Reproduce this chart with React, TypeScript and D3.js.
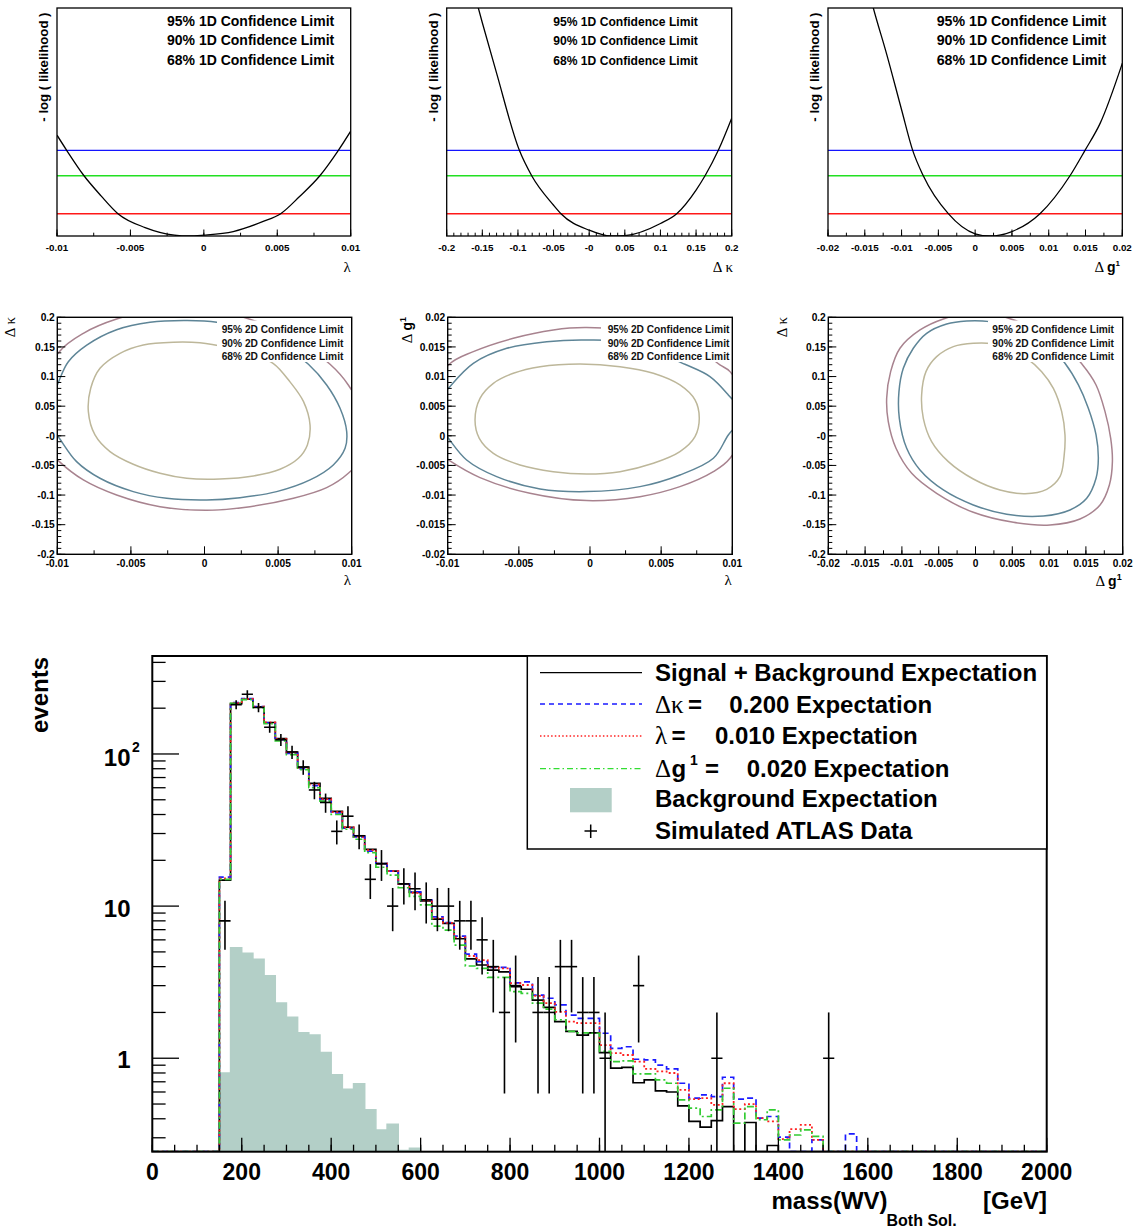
import React from "react";
import * as d3 from "d3";

const SANS = "'Liberation Sans', Arial, Helvetica, sans-serif";
const SERIF = "'Liberation Serif', 'DejaVu Serif', serif";

// ---------------- 1D likelihood scans ----------------
const levels1D = [1.92, 1.35, 0.5];
const levelColors = ["#1414ff", "#22e022", "#ff1818"];
const legend1D = ["95% 1D Confidence Limit", "90% 1D Confidence Limit", "68% 1D Confidence Limit"];
const likeMax = 5.11;

const scanLamX = [-0.01, -0.00934, -0.00816, -0.007, -0.00585, -0.004, -0.002, -0.001, 0, 0.002, 0.004, 0.00523, 0.0065, 0.0079, 0.00916, 0.01];
const scanLamY = [2.26, 1.92, 1.35, 0.9, 0.5, 0.19, 0.02, 0.0, 0.02, 0.1, 0.32, 0.5, 0.88, 1.35, 1.92, 2.35];
const scanKapX = [-0.17, -0.1556, -0.15, -0.13, -0.098, -0.0807, -0.05, -0.0396, 0.0, 0.03, 0.05, 0.1, 0.1228, 0.15, 0.1626, 0.1812, 0.2];
const scanKapY = [6.0, 5.11, 4.78, 3.65, 1.92, 1.35, 0.69, 0.5, 0.13, 0.0, 0.01, 0.28, 0.5, 1.03, 1.35, 1.92, 2.64];
const scanG1X = [-0.0155, -0.01384, -0.012, -0.01, -0.00849, -0.00705, -0.00365, 0.0, 0.002, 0.005, 0.00881, 0.01289, 0.01493, 0.017, 0.02];
const scanG1Y = [6.2, 5.11, 4.06, 2.83, 1.92, 1.35, 0.5, 0.05, 0.0, 0.1, 0.5, 1.35, 1.92, 2.53, 3.87];

// ---------------- tick values ----------------
const lamTicks = [-0.01, -0.005, 0, 0.005, 0.01];
const lamLabels = ["-0.01", "-0.005", "0", "0.005", "0.01"];
const kapTicks = [-0.2, -0.15, -0.1, -0.05, 0, 0.05, 0.1, 0.15, 0.2];
const kapLabels = ["-0.2", "-0.15", "-0.1", "-0.05", "-0", "0.05", "0.1", "0.15", "0.2"];
const g1Ticks = [-0.02, -0.015, -0.01, -0.005, 0, 0.005, 0.01, 0.015, 0.02];
const g1Labels = ["-0.02", "-0.015", "-0.01", "-0.005", "0", "0.005", "0.01", "0.015", "0.02"];

// ---------------- 2D contours ----------------
const legend2D = ["95% 2D Confidence Limit", "90% 2D Confidence Limit", "68% 2D Confidence Limit"];
const contourColors = ["#a8838f", "#5e8597", "#bdb79a"]; // 95, 90, 68

const lamKap95 = [[-0.0114, 0.0], [-0.01163, 0.052], [-0.00986, 0.142], [-0.00823, 0.173], [-0.00597, 0.197], [-0.0037, 0.2096], [-0.00031, 0.215], [0.00287, 0.1985], [0.00604, 0.1646], [0.00853, 0.1207], [0.00977, 0.0858], [0.01079, 0.035], [0.01079, -0.032], [0.00977, -0.0633], [0.0083, -0.0875], [0.00604, -0.1055], [0.00309, -0.1196], [0.00015, -0.1257], [-0.00302, -0.1196], [-0.00597, -0.0999], [-0.00823, -0.0745], [-0.00986, -0.0436]];
const lamKap90 = [[-0.0105, 0.0464], [-0.00986, 0.0942], [-0.00925, 0.125], [-0.008, 0.153], [-0.00597, 0.179], [-0.0037, 0.1916], [-0.00121, 0.1944], [0.00083, 0.1916], [0.00332, 0.176], [0.00558, 0.1477], [0.00706, 0.1207], [0.0083, 0.0858], [0.00921, 0.0464], [0.00966, 0.007], [0.00955, -0.0211], [0.00875, -0.0492], [0.00717, -0.0745], [0.0049, -0.0942], [0.00241, -0.1044], [0.00015, -0.1083], [-0.00257, -0.1055], [-0.00484, -0.0942], [-0.0071, -0.0717], [-0.00869, -0.0436], [-0.00986, -0.0042], [-0.0105, 0.018]];
const lamKap68 = [[-0.00212, 0.158], [-0.00031, 0.157], [0.00151, 0.149], [0.00332, 0.136], [0.00468, 0.122], [0.00581, 0.091], [0.00672, 0.058], [0.00717, 0.018], [0.00699, -0.0155], [0.00638, -0.038], [0.00513, -0.0565], [0.00332, -0.0678], [0.00105, -0.0729], [-0.00121, -0.0717], [-0.00302, -0.0633], [-0.00484, -0.0481], [-0.00642, -0.0267], [-0.00744, 0.0014], [-0.00789, 0.0408], [-0.00773, 0.0802], [-0.0071, 0.1139], [-0.00574, 0.1392], [-0.00416, 0.1533]];

const lamG95 = [[-0.01194, 0.00408], [-0.00995, 0.01196], [-0.0082, 0.0142], [-0.00539, 0.01646], [-0.00258, 0.01786], [-0.00023, 0.01826], [0.00398, 0.0173], [0.00749, 0.01477], [0.00913, 0.01196], [0.00984, 0.01083], [0.01124, 0.00352], [0.00984, -0.0038], [0.00867, -0.00605], [0.00632, -0.00858], [0.00351, -0.01027], [-0.00023, -0.01094], [-0.00422, -0.0097], [-0.00773, -0.00706], [-0.00995, -0.00408], [-0.01194, -0.00042]];
const lamG90 = [[-0.01124, 0.00408], [-0.00995, 0.00802], [-0.0082, 0.01224], [-0.00585, 0.01477], [-0.00304, 0.01589], [-0.00023, 0.01617], [0.00304, 0.01561], [0.00667, 0.01207], [0.00843, 0.00999], [0.00972, 0.00689], [0.01077, 0.00352], [0.00972, 0.00014], [0.00867, -0.0038], [0.00632, -0.00661], [0.00351, -0.00858], [-0.00023, -0.00942], [-0.00351, -0.00897], [-0.00656, -0.00689], [-0.00867, -0.00408], [-0.00995, -0.00042]];
const lamG68 = [[-0.00808, 0.00267], [-0.00773, 0.00633], [-0.00679, 0.00886], [-0.00539, 0.01055], [-0.00351, 0.01167], [-0.0007, 0.01212], [0.00211, 0.01167], [0.00445, 0.01055], [0.00632, 0.00858], [0.00738, 0.00605], [0.00768, 0.00295], [0.00738, -0.00014], [0.00632, -0.00267], [0.00445, -0.00464], [0.00211, -0.00605], [-0.00023, -0.00644], [-0.00258, -0.00605], [-0.00492, -0.00492], [-0.00679, -0.00295], [-0.00778, -0.00042]];

const gKap95 = [[0.00016, 0.2096], [-0.00437, 0.1972], [-0.00754, 0.1786], [-0.01026, 0.1477], [-0.01153, 0.1083], [-0.01207, 0.0633], [-0.01185, 0.0239], [-0.0108, -0.0211], [-0.00867, -0.0633], [-0.00528, -0.097], [-0.0003, -0.1291], [0.00514, -0.146], [0.01012, -0.1505], [0.0142, -0.1404], [0.01692, -0.1167], [0.01819, -0.083], [0.0186, -0.0436], [0.01837, -0.0042], [0.0176, 0.0408], [0.01638, 0.0858], [0.01456, 0.1195], [0.01148, 0.1589], [0.0045, 0.1985]];
const gKap90 = [[0.00197, 0.1927], [-0.0012, 0.1938], [-0.00392, 0.1887], [-0.00664, 0.173], [-0.00845, 0.1477], [-0.00981, 0.1139], [-0.0104, 0.0745], [-0.01035, 0.0295], [-0.00935, -0.0211], [-0.00754, -0.0577], [-0.00437, -0.0914], [-0.0003, -0.1167], [0.00424, -0.1325], [0.00922, -0.1353], [0.01284, -0.1252], [0.01511, -0.1055], [0.01638, -0.0717], [0.01669, -0.038], [0.01638, 0.0014], [0.01533, 0.0464], [0.01398, 0.0858], [0.01216, 0.1224], [0.00967, 0.1561], [0.00605, 0.1814]];
const gKap68 = [[-0.0003, 0.1561], [-0.00301, 0.1505], [-0.00528, 0.1336], [-0.00673, 0.1083], [-0.00732, 0.0689], [-0.00709, 0.0295], [-0.00596, -0.0098], [-0.00369, -0.0436], [-0.0003, -0.0729], [0.00333, -0.0914], [0.00673, -0.0976], [0.00967, -0.0903], [0.01148, -0.0689], [0.01203, -0.0352], [0.01216, 0.0014], [0.01171, 0.0408], [0.01058, 0.0802], [0.00899, 0.1083], [0.00695, 0.1308], [0.00333, 0.1533]];

// ---------------- main histogram ----------------
const massTicks = [0, 200, 400, 600, 800, 1000, 1200, 1400, 1600, 1800, 2000];
const massLabels = ["0", "200", "400", "600", "800", "1000", "1200", "1400", "1600", "1800", "2000"];
const histStart = 150;
const binW = 25;
const sigBkg = [14.8, 214, 229, 204, 161, 126, 103, 82, 64, 51, 42, 33, 29, 23.6, 19, 17, 14, 12.3, 10.8, 8.2, 7.7, 6.1, 4.5, 4.1, 3.8, 3.7, 2.95, 2.84, 2.41, 2.16, 1.74, 1.5, 1.42, 1.47, 1.09, 0.86, 0.87, 0.69, 0.72, 0.61, 0.6, 0.486, 0.384, 0.352, 0.389, 0.481, 0, 0.378, 0, 0.267, 0, 0, 0, 0, 0, 0, 0, 0];
const dkExp = [15.5, 218, 231, 205, 160, 124, 101, 80, 62, 50, 41, 32.5, 28.5, 23, 19, 17, 14, 12.4, 11, 8.5, 7.8, 6.35, 4.84, 4.31, 3.96, 3.96, 3.13, 3.18, 2.6, 2.48, 2.24, 1.92, 1.83, 1.83, 1.46, 1.16, 1.19, 0.985, 0.975, 0.9, 0.85, 0.685, 0.546, 0.574, 0.56, 0.75, 0.538, 0.546, 0.404, 0.414, 0.303, 0, 0, 0.291, 0, 0, 0.318, 0];
const lamExp = [15.2, 216, 230, 205, 161, 125, 102, 81, 63, 50.5, 41.5, 33, 28.5, 23.3, 19, 17, 14, 12.2, 10.9, 8.3, 7.77, 6.23, 4.7, 4.42, 3.96, 3.9, 3.11, 3.03, 2.57, 2.3, 2.02, 1.74, 1.7, 1.7, 1.22, 1.08, 1.05, 0.95, 0.85, 0.82, 0.8, 0.62, 0.538, 0.546, 0.494, 0.685, 0.463, 0.5, 0.404, 0.384, 0.294, 0.342, 0.365, 0.291, 0, 0, 0, 0];
const g1Exp = [15.0, 215, 228, 202, 158, 122, 99, 79, 60, 49, 40, 32, 27.5, 22.5, 18, 16, 13.2, 11.6, 10.2, 7.39, 6.96, 5.54, 4.04, 3.9, 3.4, 3.4, 2.74, 2.67, 2.3, 2.1, 1.79, 1.5, 1.47, 1.46, 1.11, 0.95, 0.96, 0.79, 0.79, 0.72, 0.685, 0.532, 0.47, 0.414, 0.458, 0.635, 0.374, 0.481, 0.394, 0.458, 0.291, 0.313, 0.338, 0.306, 0, 0, 0, 0];
const bkgExp = [0.8, 5.32, 4.89, 4.47, 3.49, 2.31, 1.86, 1.47, 1.42, 1.09, 0.78, 0.625, 0.68, 0.458, 0.338, 0.368, 0.247, 0.256];
const dataCounts = [8, 211, 247, 202, 150, 124, 103, 82, 58, 48, 31, 39, 29, 15, 19, 10, 14, 13, 11, 10, 10, 8, 8, 6, 4, 2, 3, 0, 2, 2, 4, 4, 2, 2, 1, 0, 0, 3, 0, 0, 0, 0, 0, 0, 1, 0, 0, 0, 0, 0, 0, 0, 0, 0, 1, 0, 0, 0];

const legendMain = ["Signal + Background Expectation", "Background Expectation", "Simulated ATLAS Data"];

// ---------------- components ----------------
function frac(a: number, b: number, step: number) {
  const n = Math.round((b - a) / step);
  return d3.range(n + 1).map((i) => a + i * step);
}

function Scan1D(p: any) {
  const { id, x0, x1, y0, y1, dom, sx, sy, ticks, labels, minor, legX, legSize, ylabX, title } = p;
  const xs = d3.scaleLinear().domain(dom).range([x0, x1]);
  const ys = d3.scaleLinear().domain([0, likeMax]).range([y1, y0]);
  const pts = sx.map((v: number, i: number) => [v, sy[i]]);
  const line = d3.line<number[]>().x((d) => xs(d[0])).y((d) => ys(d[1])).curve(d3.curveMonotoneX);
  const minors = frac(dom[0], dom[1], minor);
  return (
    <g>
      <clipPath id={id}>
        <rect x={x0} y={y0} width={x1 - x0} height={y1 - y0} />
      </clipPath>
      {levels1D.map((l, i) => (
        <line key={i} x1={x0} x2={x1} y1={ys(l)} y2={ys(l)} stroke={levelColors[i]} strokeWidth={1.4} />
      ))}
      <path d={line(pts) || ""} fill="none" stroke="#000" strokeWidth={1.3} clipPath={`url(#${id})`} />
      {minors.map((t: number, i: number) => (
        <line key={"m" + i} x1={xs(t)} x2={xs(t)} y1={y1} y2={y1 - 3.3} stroke="#000" strokeWidth={1} />
      ))}
      {ticks.map((t: number, i: number) => (
        <line key={"M" + i} x1={xs(t)} x2={xs(t)} y1={y1} y2={y1 - 6.5} stroke="#000" strokeWidth={1} />
      ))}
      {ticks.map((t: number, i: number) => (
        <text key={"l" + i} x={xs(t)} y={250.5} textAnchor="middle" fontFamily={SANS} fontWeight="bold" fontSize={9.8}>
          {labels[i]}
        </text>
      ))}
      <rect x={x0} y={y0} width={x1 - x0} height={y1 - y0} fill="none" stroke="#000" strokeWidth={1.3} />
      {legend1D.map((s, i) => (
        <text key={"g" + i} x={legX} y={[25.5, 45, 64.5][i]} fontFamily={SANS} fontWeight="bold" fontSize={legSize}>
          {s}
        </text>
      ))}
      <text transform={`translate(${ylabX},12.5) rotate(-90)`} textAnchor="end" fontFamily={SANS} fontWeight="bold" fontSize={13.2}>
        - log ( likelihood )
      </text>
      {title}
    </g>
  );
}

function Contour2D(p: any) {
  const { id, x0, x1, y0, y1, xdom, ydom, contours, xTicks, xLabels, xMinor, yTicks, yLabels, yMinor, legX, boxX0, boxX1, xTitle, yTitle } = p;
  const xs = d3.scaleLinear().domain(xdom).range([x0, x1]);
  const ys = d3.scaleLinear().domain(ydom).range([y1, y0]);
  const line = d3.line<number[]>().x((d) => xs(d[0])).y((d) => ys(d[1])).curve(d3.curveCatmullRomClosed.alpha(0.5));
  const xm = frac(xdom[0], xdom[1], xMinor);
  const ym = frac(ydom[0], ydom[1], yMinor);
  return (
    <g>
      <clipPath id={id}>
        <rect x={x0} y={y0} width={x1 - x0} height={y1 - y0} />
      </clipPath>
      <g clipPath={`url(#${id})`}>
        {contours.map((c: number[][], i: number) => (
          <path key={i} d={line(c) || ""} fill="none" stroke={contourColors[i]} strokeWidth={1.5} />
        ))}
      </g>
      <rect x={boxX0} y={320.5} width={boxX1 - boxX0} height={41.5} fill="#fff" />
      {legend2D.map((s, i) => (
        <text key={"g" + i} x={legX} y={[332.6, 347.3, 360.3][i]} fontFamily={SANS} fontWeight="bold" fontSize={10.2} fill="#111">
          {s}
        </text>
      ))}
      {xm.map((t: number, i: number) => (
        <line key={"xm" + i} x1={xs(t)} x2={xs(t)} y1={y1} y2={y1 - 4} stroke="#000" strokeWidth={1} />
      ))}
      {xTicks.map((t: number, i: number) => (
        <line key={"xM" + i} x1={xs(t)} x2={xs(t)} y1={y1} y2={y1 - 8} stroke="#000" strokeWidth={1} />
      ))}
      {ym.map((t: number, i: number) => (
        <line key={"ym" + i} x1={x0} x2={x0 + 4} y1={ys(t)} y2={ys(t)} stroke="#000" strokeWidth={1} />
      ))}
      {yTicks.map((t: number, i: number) => (
        <line key={"yM" + i} x1={x0} x2={x0 + 8} y1={ys(t)} y2={ys(t)} stroke="#000" strokeWidth={1} />
      ))}
      {xTicks.map((t: number, i: number) => (
        <text key={"xl" + i} x={xs(t)} y={566.5} textAnchor="middle" fontFamily={SANS} fontWeight="bold" fontSize={10.2}>
          {xLabels[i]}
        </text>
      ))}
      {yTicks.map((t: number, i: number) => (
        <text key={"yl" + i} x={x0 - 2.5} y={ys(t) + 3.7} textAnchor="end" fontFamily={SANS} fontWeight="bold" fontSize={10.2}>
          {yLabels[i]}
        </text>
      ))}
      <rect x={x0} y={y0} width={x1 - x0} height={y1 - y0} fill="none" stroke="#000" strokeWidth={1.4} />
      {xTitle}
      {yTitle}
    </g>
  );
}

function MainHist() {
  const x0 = 152.3, x1 = 1046.7, yTop = 656, yBot = 1151.7;
  const ymin = 0.243, ymax = 440.6;
  const xs = d3.scaleLinear().domain([0, 2000]).range([x0, x1]);
  const ys = d3.scaleLog().domain([ymin, ymax]).range([yBot, yTop]);
  const nBins = 2000 / binW;
  const edges = d3.range(nBins).map((i) => i * binW);
  const off = histStart / binW;
  const full = (arr: number[]) => edges.map((e, i) => (i - off >= 0 && i - off < arr.length ? arr[i - off] : 0));
  const stepPts = (arr: number[]) => {
    const f = full(arr);
    const pts = f.map((v, i) => [edges[i], v]);
    pts.push([2000, f[nBins - 1]]);
    return pts;
  };
  const cy = (v: number) => ys(Math.max(v, ymin));
  const stepLine = d3.line<number[]>().x((d) => xs(d[0])).y((d) => cy(d[1])).curve(d3.curveStepAfter);
  const area = d3.area<number[]>().x((d) => xs(d[0])).y0(yBot).y1((d) => cy(d[1])).curve(d3.curveStepAfter);

  const logTicks: { v: number; major: boolean }[] = [];
  [-1, 0, 1, 2].forEach((d) => {
    for (let k = 1; k <= 9; k++) {
      const v = k * Math.pow(10, d);
      if (v >= ymin && v <= ymax) logTicks.push({ v, major: k === 1 });
    }
  });
  const xMinor = frac(0, 2000, 50);

  const series = [
    { arr: sigBkg, color: "#000", dash: undefined, w: 1.7 },
    { arr: dkExp, color: "#1a1aff", dash: "6,4", w: 1.7 },
    { arr: lamExp, color: "#ff2020", dash: "2,2.6", w: 1.8 },
    { arr: g1Exp, color: "#33cc33", dash: "7,3,2,3", w: 1.7 },
  ];

  const rowY = [672.7, 704, 736, 768.7, 800, 831];
  const base = [680.7, 712.5, 744, 777.3, 807.3, 838.5];
  const bold = { fontFamily: SANS, fontWeight: "bold" as const, fontSize: 24 };

  return (
    <g>
      <clipPath id="mainclip">
        <rect x={x0} y={yTop} width={x1 - x0} height={yBot - yTop} />
      </clipPath>
      <g clipPath="url(#mainclip)">
        <path d={area(stepPts(bkgExp)) || ""} fill="#b3cfc7" stroke="none" />
        <path d={stepLine(stepPts(bkgExp)) || ""} fill="none" stroke="#b3cfc7" strokeWidth={1.5} />
        {series.map((s, i) => (
          <path key={i} d={stepLine(stepPts(s.arr)) || ""} fill="none" stroke={s.color} strokeWidth={s.w} strokeDasharray={s.dash} />
        ))}
        {dataCounts.map((n, i) => {
          if (n <= 0) return null;
          const e = histStart + i * binW;
          const err = Math.sqrt(n);
          return (
            <g key={"d" + i} stroke="#000" strokeWidth={1.6}>
              <line x1={xs(e)} x2={xs(e + binW)} y1={ys(n)} y2={ys(n)} />
              <line x1={xs(e + binW / 2)} x2={xs(e + binW / 2)} y1={cy(n - err)} y2={ys(n + err)} />
            </g>
          );
        })}
      </g>
      {/* axes ticks */}
      {xMinor.map((t, i) => (
        <line key={"xm" + i} x1={xs(t)} x2={xs(t)} y1={yBot} y2={yBot - 7} stroke="#000" strokeWidth={1.3} />
      ))}
      {massTicks.map((t, i) => (
        <line key={"xM" + i} x1={xs(t)} x2={xs(t)} y1={yBot} y2={yBot - 14} stroke="#000" strokeWidth={1.3} />
      ))}
      {logTicks.map((t, i) => (
        <line key={"yt" + i} x1={x0} x2={x0 + (t.major ? 26.7 : 13.3)} y1={ys(t.v)} y2={ys(t.v)} stroke="#000" strokeWidth={1.3} />
      ))}
      {massTicks.map((t, i) => (
        <text key={"xl" + i} x={xs(t)} y={1180} textAnchor="middle" {...bold} fontSize={23}>
          {massLabels[i]}
        </text>
      ))}
      <text x={130.5} y={ys(100) + 12.5} textAnchor="end" {...bold}>10</text>
      <text x={132} y={ys(100) - 2} {...bold} fontSize={14}>2</text>
      <text x={130.5} y={ys(10) + 10.5} textAnchor="end" {...bold}>10</text>
      <text x={130.5} y={ys(1) + 10} textAnchor="end" {...bold}>1</text>
      <rect x={x0} y={yTop} width={x1 - x0} height={yBot - yTop} fill="none" stroke="#000" strokeWidth={2} />
      <text transform={`translate(48,657) rotate(-90)`} textAnchor="end" {...bold}>events</text>
      <text x={771.5} y={1209} {...bold}>mass(WV)</text>
      <text x={886.5} y={1225.5} {...bold} fontSize={16}>Both Sol.</text>
      <text x={983} y={1209} {...bold}>[GeV]</text>

      {/* legend */}
      <rect x={527.3} y={yTop} width={x1 - 527.3} height={849 - yTop} fill="#fff" stroke="#000" strokeWidth={1.5} />
      <line x1={540} x2={642} y1={rowY[0]} y2={rowY[0]} stroke="#000" strokeWidth={1.3} />
      <line x1={540} x2={642} y1={rowY[1]} y2={rowY[1]} stroke="#1a1aff" strokeWidth={1.3} strokeDasharray="5,4" />
      <line x1={540} x2={642} y1={rowY[2]} y2={rowY[2]} stroke="#ff2020" strokeWidth={1.3} strokeDasharray="1.5,2.2" />
      <line x1={540} x2={642} y1={rowY[3]} y2={rowY[3]} stroke="#33dd33" strokeWidth={1.3} strokeDasharray="6,3,1.5,3" />
      <rect x={570} y={788} width={41.7} height={24.3} fill="#b3cfc7" />
      <line x1={584.5} x2={597} y1={rowY[5]} y2={rowY[5]} stroke="#000" strokeWidth={1.5} />
      <line x1={590.7} x2={590.7} y1={824.5} y2={838} stroke="#000" strokeWidth={1.5} />

      <text x={655} y={base[0]} {...bold}>{legendMain[0]}</text>
      <text x={655} y={base[1]} fontFamily={SERIF} fontSize={25}>Δκ</text>
      <text x={688} y={base[1]} {...bold}>=</text>
      <text x={729.3} y={base[1]} {...bold}>0.200 Expectation</text>
      <text x={655} y={base[2]} fontFamily={SERIF} fontSize={25}>λ</text>
      <text x={671.5} y={base[2]} {...bold}>=</text>
      <text x={715} y={base[2]} {...bold}>0.010 Expectation</text>
      <text x={655} y={base[3]} fontFamily={SERIF} fontSize={25}>Δ</text>
      <text x={671.5} y={base[3]} {...bold}>g</text>
      <text x={690} y={base[3] - 12} {...bold} fontSize={14}>1</text>
      <text x={705} y={base[3]} {...bold}>=</text>
      <text x={746.7} y={base[3]} {...bold}>0.020 Expectation</text>
      <text x={655} y={base[4]} {...bold}>{legendMain[1]}</text>
      <text x={655} y={base[5]} {...bold}>{legendMain[2]}</text>
    </g>
  );
}

const greekTitle = (x: number, y: number, s: string) => (
  <text x={x} y={y} textAnchor="end" fontFamily={SERIF} fontSize={15}>{s}</text>
);
const dgTitle = (x: number, y: number) => (
  <text x={x} y={y} textAnchor="end">
    <tspan fontFamily={SERIF} fontSize={15}>Δ </tspan>
    <tspan fontFamily={SANS} fontWeight="bold" fontSize={14}>g</tspan>
    <tspan fontFamily={SANS} fontWeight="bold" fontSize={8} dy={-6}>1</tspan>
  </text>
);
const rotTitle = (x: number, content: any) => (
  <text transform={`translate(${x},317) rotate(-90)`} textAnchor="end">{content}</text>
);

export default function App() {
  return (
    <svg width={1135} height={1228} style={{ position: "absolute", left: 0, top: 0, background: "#fff" }} xmlns="http://www.w3.org/2000/svg">
      <rect x={0} y={0} width={1135} height={1228} fill="#fff" />
      <Scan1D id="c1" x0={57} x1={350.7} y0={8} y1={236} dom={[-0.01, 0.01]} sx={scanLamX} sy={scanLamY}
        ticks={lamTicks} labels={lamLabels} minor={0.0025} legX={167} legSize={14} ylabX={47.5}
        title={greekTitle(350.7, 271.5, "λ")} />
      <Scan1D id="c2" x0={446.7} x1={731.7} y0={8} y1={236} dom={[-0.2, 0.2]} sx={scanKapX} sy={scanKapY}
        ticks={kapTicks} labels={kapLabels} minor={0.01} legX={553.3} legSize={12.1} ylabX={438}
        title={greekTitle(733, 272, "Δ κ")} />
      <Scan1D id="c3" x0={828} x1={1122.3} y0={8} y1={236} dom={[-0.02, 0.02]} sx={scanG1X} sy={scanG1Y}
        ticks={g1Ticks} labels={g1Labels} minor={0.0025} legX={936.7} legSize={14.2} ylabX={819}
        title={dgTitle(1120, 272)} />

      <Contour2D id="c4" x0={57.3} x1={351.7} y0={317.3} y1={554.3} xdom={[-0.01, 0.01]} ydom={[-0.2, 0.2]}
        contours={[lamKap95, lamKap90, lamKap68]} xTicks={lamTicks} xLabels={lamLabels} xMinor={0.0025}
        yTicks={kapTicks} yLabels={kapLabels} yMinor={0.01} legX={221.7} boxX0={217} boxX1={347}
        xTitle={greekTitle(351, 585, "λ")}
        yTitle={rotTitle(15, <tspan fontFamily={SERIF} fontSize={15}>Δ κ</tspan>)} />
      <Contour2D id="c5" x0={447.7} x1={732.3} y0={317.3} y1={554.3} xdom={[-0.01, 0.01]} ydom={[-0.02, 0.02]}
        contours={[lamG95, lamG90, lamG68]} xTicks={lamTicks} xLabels={lamLabels} xMinor={0.0025}
        yTicks={g1Ticks} yLabels={g1Labels} yMinor={0.001} legX={607.7} boxX0={601} boxX1={731}
        xTitle={greekTitle(731.7, 585, "λ")}
        yTitle={rotTitle(411.5, <>
          <tspan fontFamily={SERIF} fontSize={15}>Δ </tspan>
          <tspan fontFamily={SANS} fontWeight="bold" fontSize={14}>g</tspan>
          <tspan fontFamily={SANS} fontWeight="bold" fontSize={9} dy={-6}>1</tspan>
        </>)} />
      <Contour2D id="c6" x0={828.3} x1={1122.7} y0={317.3} y1={554.3} xdom={[-0.02, 0.02]} ydom={[-0.2, 0.2]}
        contours={[gKap95, gKap90, gKap68]} xTicks={g1Ticks} xLabels={g1Labels} xMinor={0.0025}
        yTicks={kapTicks} yLabels={kapLabels} yMinor={0.01} legX={992.3} boxX0={988} boxX1={1121}
        xTitle={<text x={1121.7} y={586} textAnchor="end">
          <tspan fontFamily={SERIF} fontSize={15}>Δ </tspan>
          <tspan fontFamily={SANS} fontWeight="bold" fontSize={14}>g</tspan>
          <tspan fontFamily={SANS} fontWeight="bold" fontSize={9} dy={-6}>1</tspan>
        </text>}
        yTitle={rotTitle(786.5, <tspan fontFamily={SERIF} fontSize={15}>Δ κ</tspan>)} />

      <MainHist />
    </svg>
  );
}
